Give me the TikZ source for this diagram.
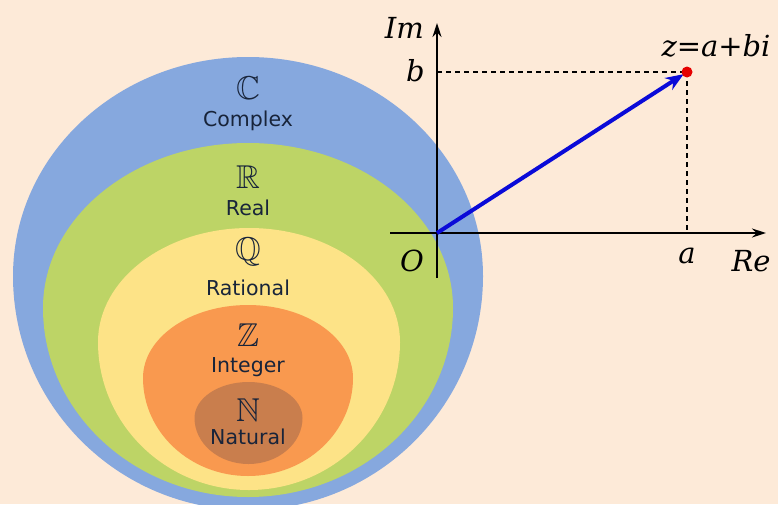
\documentclass[tikz,border=0pt]{standalone}
\usepackage{amssymb}
\usepackage{fontspec}
\newfontfamily\lblsans{DejaVu Sans}
\newfontfamily\lblserif{DejaVu Serif}
\usetikzlibrary{arrows.meta,calc}
\definecolor{bgc}{HTML}{FDEAD8}
\definecolor{cblue}{HTML}{86A8DE}
\definecolor{cgreen}{HTML}{BDD466}
\definecolor{cyellow}{HTML}{FDE387}
\definecolor{corange}{HTML}{F9994F}
\definecolor{cbrown}{HTML}{C97E4D}
\definecolor{ctext}{HTML}{18243A}
\definecolor{cvec}{HTML}{0A0AD8}
% #1 cx, #2 cy, #3 rx, #4 top radius, #5 bottom radius, #6 colour
\newcommand{\eggshape}[6]{%
  \fill[#6] ({#1+#3},#2) arc[start angle=0, end angle=180, x radius=#3, y radius=#5]
    arc[start angle=180, end angle=360, x radius=#3, y radius=#4] -- cycle;}
\tikzset{
  setsym/.style={inner sep=0pt, text=ctext, font=\fontsize{33}{35}\selectfont},
  setname/.style={inner sep=0pt, text=ctext, font=\lblsans\fontsize{20.5}{22}\selectfont},
  axlbl/.style={inner sep=0pt, font=\lblserif\itshape\fontsize{29}{31}\selectfont},
  axis/.style={line width=1.8pt, -{Stealth[length=14pt,width=9pt]}},
  guide/.style={line width=1.4pt, dash pattern=on 5pt off 4pt},
  vec/.style={cvec, line width=4pt, -{Stealth[length=18pt,width=14pt]}}
}
\begin{document}
\begin{tikzpicture}[x=1pt,y=-1pt]
\useasboundingbox (0,0) rectangle (778,504);
\fill[bgc] (0,0) rectangle (778,504);
\clip (0,0) rectangle (778,504);
% nested sets (egg-shaped ovals)
\eggshape{248}{276}{235}{219}{234}{cblue}
\eggshape{248}{308}{205}{165}{189}{cgreen}
\eggshape{249}{342}{151}{114}{148}{cyellow}
\eggshape{248}{378}{105}{73}{98}{corange}
\eggshape{248.5}{418}{54}{36}{46}{cbrown}
% labels
\node[setsym]  (sC) at (248,88) {$\mathbb{C}$};
\node[setname] (nC) at (248,121) {Complex};
\node[setsym]  (sR) at (248,177) {$\mathbb{R}$};
\node[setname] (nR) at (248,208) {Real};
\node[setsym]  (sQ) at (248,252) {$\mathbb{Q}$};
\node[setname] (nQ) at (248,288) {Rational};
\node[setsym]  (sZ) at (248,335) {$\mathbb{Z}$};
\node[setname] (nZ) at (248,367) {Integer};
\node[setsym]  (sN) at (248,410) {$\mathbb{N}$};
\node[setname] (nN) at (248,437) {Natural};
% complex plane
\coordinate (O) at (437,233);
\coordinate (xL) at (390,233);
\coordinate (xR) at (766,233);
\coordinate (yB) at (437,278);
\coordinate (yT) at (437,23);
\coordinate (z) at (687,72);
\coordinate (bb) at (437,72);
\coordinate (aa) at (687,233);
\draw[guide] (bb) -- (z);
\draw[guide] (z) -- (aa);
\draw[axis] (xL) -- (xR);
\draw[axis] (yB) -- (yT);
\draw[vec] (O) -- ($(z)!4pt!(O)$);
\fill[red!90!black] (z) circle [radius=5.5];
\node[axlbl, anchor=east] (lIm) at (424,28) {Im};
\node[axlbl] (lz) at (716,46) {z=a+bi};
\node[axlbl, anchor=east] (lb) at (425,71) {b};
\node[axlbl] (lO) at (412,261) {O};
\node[axlbl] (la) at (687,256) {a};
\node[axlbl] (lRe) at (751,261) {Re};
\end{tikzpicture}
\end{document}
